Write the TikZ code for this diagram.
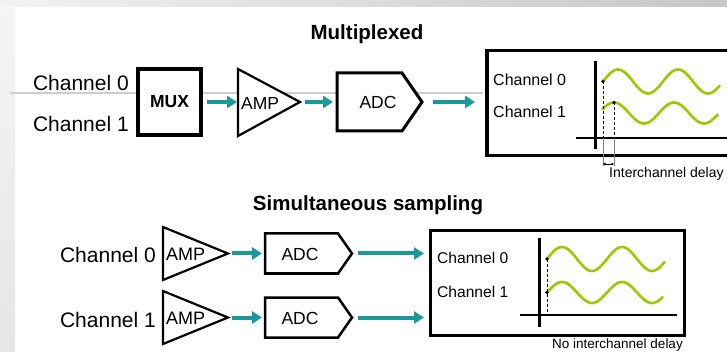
\documentclass[tikz,border=0pt]{standalone}
\usepackage{fontspec}
\setmainfont{Liberation Sans}
\usetikzlibrary{arrows.meta, positioning}

\definecolor{flowteal}{RGB}{27,152,152}
\definecolor{wavegreen}{RGB}{153,204,0}
\definecolor{railgray}{RGB}{205,205,205}

\tikzset{
  block/.style={draw, line width=3pt, fill=white, inner sep=0pt},
  adcshape/.style={draw, line width=3pt, fill=white, line join=miter},
  ampshape/.style={draw, line width=2.2pt, fill=white, line join=miter},
  label/.style={font=\fontsize{17.5}{20}\selectfont, inner sep=0pt},
  scopebox/.style={draw, line width=3.5pt, inner sep=0pt},
  flow/.style={draw=flowteal, line width=4pt, -{Triangle[length=10pt,width=12pt]}},
  wave/.style={draw=wavegreen, line width=2.6pt},
  chan/.style={font=\fontsize{21}{24}\selectfont, inner sep=0pt},
  trace/.style={font=\fontsize{16}{18}\selectfont, inner sep=0pt},
  title/.style={font=\bfseries\fontsize{20.5}{24}\selectfont, inner sep=0pt},
  note/.style={font=\fontsize{13.5}{16}\selectfont, inner sep=0pt},
  delay/.style={line width=0.8pt, dash pattern=on 3pt off 2pt}
}

\begin{document}
\begin{tikzpicture}[x=1pt, y=-1pt]
  \useasboundingbox (0,0) rectangle (727,352);
  % slide frame
  \shade[left color=black!5, right color=black!22] (0,0) rectangle (727,7);
  \shade[top color=black!4, bottom color=black!10] (0,7) rectangle (15,352);
  \draw[railgray, line width=1.2pt] (10,93) -- (483,93);

  % multiplexed
  \node[title, anchor=base] (mtitle) at (367,40) {Multiplexed};
  \node[chan, anchor=base east] (mch0) at (129,91) {Channel 0};
  \node[chan, anchor=base east] (mch1) at (129,132) {Channel 1};
  \node[block, line width=3.5pt, minimum width=63pt, minimum height=66pt,
        font=\bfseries\fontsize{17.5}{20}\selectfont] (mux) at (169.5,102) {MUX};
  \draw[ampshape] (238,69) -- (300,102) -- (238,136) -- cycle;
  \coordinate (amp-in) at (238,102);
  \coordinate (amp-out) at (300,102);
  \node[label, anchor=west] (amp) at (241,103) {AMP};
  \draw[adcshape] (337,73) -- (402,73) -- (422,102) -- (402,131) -- (337,131) -- cycle;
  \coordinate (adc-in) at (337,102);
  \coordinate (adc-out) at (422,102);
  \node[label] (adc) at (378,102) {ADC};
  \node[scopebox, anchor=north west, minimum width=300pt, minimum height=105pt] (disp) at (485,49) {};

  \draw[flow, shorten <=4pt, shorten >=1pt] (mux.east) -- (amp-in);
  \draw[flow, shorten <=5pt, shorten >=4pt] (amp-out) -- (adc-in);
  \draw[flow, shorten <=11pt, shorten >=10pt] (adc-out) -- (adc-out -| disp.west);

  % trace, multiplexed
  \node[trace, anchor=base west] (tch0) at (493,86) {Channel 0};
  \node[trace, anchor=base west] (tch1) at (493,118) {Channel 1};
  \draw[line width=1.5pt] (576,138) -- (730,138);
  \draw[line width=3pt] (595,61) -- (595,149);
  \draw[wave] plot[domain=603:720, samples=80, smooth] (\x, {81.5-12*sin(6*(\x-603))});
  \draw[wave] plot[domain=602:718, samples=80, smooth] (\x, {113-10.5*sin(6*(\x-599))});
  \coordinate (s0) at (603,81.5);
  \coordinate (s1) at (614,102.5);
  \draw[delay] (s0) -- (s0 |- 0,138);
  \draw[delay] (s1) -- (s1 |- 0,138);
  \draw[gray, line width=0.5pt] (s0 |- 0,138) -- (s0 |- 0,166);
  \draw[gray, line width=0.5pt] (s1 |- 0,138) -- (s1 |- 0,166);
  \fill (s0) circle (1.8pt);
  \fill (s1) circle (1.8pt);
  \draw[line width=0.6pt, {Triangle[length=2.5pt,width=2.5pt]}-{Triangle[length=2.5pt,width=2.5pt]}] (s0 |- 0,164) -- (s1 |- 0,164);
  \node[note, font=\fontsize{14}{16}\selectfont, anchor=base west] (gap) at (609,178) {Interchannel delay};

  % simultaneous sampling
  \node[title, anchor=base] (stitle) at (368,211) {Simultaneous sampling};
  \node[chan, anchor=base east] (sch0) at (156,262) {Channel 0};
  \node[chan, anchor=base east] (sch1) at (156,327) {Channel 1};
  \foreach \i/\y in {0/253.5, 1/317.5} {
    \draw[ampshape] (163,\y-26.5) -- (228,\y) -- (163,\y+26.5) -- cycle;
    \coordinate (samp\i-out) at (228,\y);
    \node[label, font=\fontsize{18}{20}\selectfont, anchor=west] (samp\i) at (166,\y+1) {AMP};
    \draw[adcshape, line width=2.5pt] (265,\y-20) -- (338,\y-20) -- (352,\y) -- (338,\y+20) -- (265,\y+20) -- cycle;
    \coordinate (sadc\i-in) at (265,\y);
    \coordinate (sadc\i-out) at (352,\y);
    \node[label] (sadc\i) at (300,\y+1) {ADC};
  }
  \node[scopebox, line width=3pt, anchor=north west, minimum width=254pt, minimum height=105pt] (sdisp) at (429,229) {};
  \foreach \i in {0,1} {
    \draw[flow, shorten <=4pt, shorten >=3pt] (samp\i-out) -- (sadc\i-in);
    \draw[flow, shorten <=6pt, shorten >=5pt] (sadc\i-out) -- (sadc\i-out -| sdisp.west);
  }

  % trace, simultaneous
  \node[trace, font=\fontsize{15.6}{18}\selectfont, anchor=base west] (uch0) at (437,264) {Channel 0};
  \node[trace, font=\fontsize{15.6}{18}\selectfont, anchor=base west] (uch1) at (437,297) {Channel 1};
  \draw[line width=1.5pt] (520,315) -- (677,315);
  \draw[line width=3pt] (539,238) -- (539,327);
  \draw[wave] plot[domain=547:665, samples=80, smooth] (\x, {259-12*sin(6*(\x-547))});
  \draw[wave] plot[domain=547:663, samples=80, smooth] (\x, {292.5-10.5*sin(6*(\x-547))});
  \coordinate (u0) at (547,259);
  \coordinate (u1) at (547,292.5);
  \draw[delay] (u0) -- (u0 |- 0,315);
  \fill (u0) circle (1.8pt);
  \fill (u1) circle (1.8pt);
  \node[note, anchor=base west] (nogap) at (552,348) {No interchannel delay};
\end{tikzpicture}
\end{document}
